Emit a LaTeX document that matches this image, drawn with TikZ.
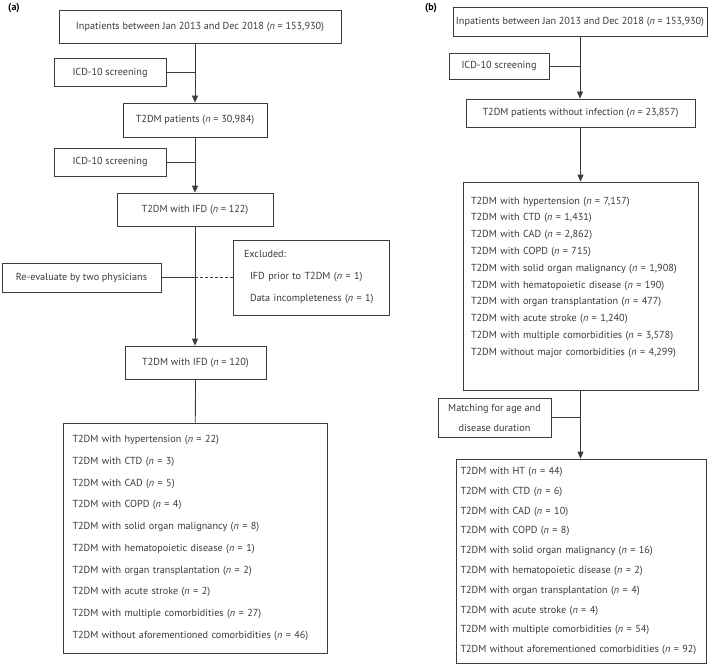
\documentclass[tikz,border=0pt]{standalone}
\usepackage{fontspec}
\setmainfont{PT Sans}
\usetikzlibrary{arrows.meta}
\definecolor{linegray}{HTML}{3C3C3C}
\definecolor{textgray}{HTML}{3A3A3A}
\newcommand{\ncount}[1]{(\textit{n} = #1)}
\tikzset{
  flowbox/.style={draw=linegray,line width=0.8pt,text=textgray,inner sep=0pt,align=center,font=\fontsize{10.2}{12}\selectfont},
  link/.style={draw=linegray,line width=0.8pt},
  arrowlink/.style={link,-{Triangle[width=6pt,length=7pt]}},
  panel/.style={font=\bfseries\fontsize{10}{12}\selectfont,text=black}
}
\begin{document}
\begin{tikzpicture}[x=1pt,y=-1pt]
        \useasboundingbox (0,0) rectangle (709,666);
        \node[panel] (labA) at (14,8) {(a)};
        \node[panel] (labB) at (431,8) {(b)};
        \node[flowbox,minimum width=282pt,minimum height=33pt] (inpA) at (200,26.5) {Inpatients between Jan 2013 and Dec 2018 \ncount{153,930}};
        \node[flowbox,minimum width=112pt,minimum height=28pt] (icdA1) at (110,72.5) {ICD-10 screening};
        \node[flowbox,minimum width=144pt,minimum height=34pt] (t2dmA) at (195,120) {T2DM patients \ncount{30,984}};
        \node[flowbox,minimum width=112pt,minimum height=28pt] (icdA2) at (110,162) {ICD-10 screening};
        \node[flowbox,minimum width=156pt,minimum height=33pt] (ifdA) at (195,209.5) {T2DM with IFD \ncount{122}};
        \node[flowbox,minimum width=159pt,minimum height=29pt] (evalA) at (81.5,277.5) {Re-evaluate by two physicians};
        \node[flowbox,align=left,text width=134pt,inner xsep=11pt,minimum height=75pt,font=\fontsize{10.2}{22}\selectfont] (exclA) at (311,277.5) {Excluded:\\\hspace*{6pt}IFD prior to T2DM \ncount{1}\\\hspace*{6pt}Data incompleteness \ncount{1}};
        \node[flowbox,minimum width=141pt,minimum height=33pt] (ifdA2) at (195.5,362.5) {T2DM with IFD \ncount{120}};
        \node[flowbox,align=left,text width=245pt,inner xsep=9.5pt,minimum height=230pt,font=\fontsize{10.2}{21.7}\selectfont] (listA) at (195,538) {T2DM with hypertension \ncount{22}\\T2DM with CTD \ncount{3}\\T2DM with CAD \ncount{5}\\T2DM with COPD \ncount{4}\\T2DM with solid organ malignancy \ncount{8}\\T2DM with hematopoietic disease \ncount{1}\\T2DM with organ transplantation \ncount{2}\\T2DM with acute stroke \ncount{2}\\T2DM with multiple comorbidities \ncount{27}\\T2DM without aforementioned comorbidities \ncount{46}};
        \draw[arrowlink] (inpA.south -| t2dmA) -- (t2dmA.north);
        \draw[link] (icdA1) -- (icdA1 -| t2dmA);
        \draw[arrowlink] (t2dmA) -- (ifdA);
        \draw[link] (icdA2) -- (icdA2 -| t2dmA);
        \draw[arrowlink] (ifdA.south) -- (ifdA.south |- ifdA2.north);
        \draw[link] (evalA) -- (evalA -| ifdA);
        \draw[link,dash pattern=on 3pt off 2pt] (evalA -| ifdA) -- (exclA);
        \draw[link] (ifdA2) -- (listA);
        \node[flowbox,minimum width=254pt,minimum height=29pt] (inpB) at (580,21.5) {Inpatients between Jan 2013 and Dec 2018 \ncount{153,930}};
        \node[flowbox,minimum width=100pt,minimum height=26pt] (icdB) at (499,66) {ICD-10 screening};
        \node[flowbox,minimum width=229pt,minimum height=28pt] (t2dmB) at (580.5,113) {T2DM patients without infection \ncount{23,857}};
        \node[flowbox,align=left,text width=219pt,inner xsep=8pt,minimum height=208pt,font=\fontsize{10.2}{16.8}\selectfont] (listB) at (580.5,286) {T2DM with hypertension \ncount{7,157}\\T2DM with CTD \ncount{1,431}\\T2DM with CAD \ncount{2,862}\\T2DM with COPD \ncount{715}\\T2DM with solid organ malignancy \ncount{1,908}\\T2DM with hematopoietic disease \ncount{190}\\T2DM with organ transplantation \ncount{477}\\T2DM with acute stroke \ncount{1,240}\\T2DM with multiple comorbidities \ncount{3,578}\\T2DM without major comorbidities \ncount{4,299}\rule[-20pt]{0pt}{0pt}};
        \node[flowbox,minimum width=113pt,minimum height=39pt,font=\fontsize{10.2}{20}\selectfont] (matchB) at (494.5,417.5) {Matching for age and\\disease duration};
        \node[flowbox,align=left,text width=241pt,inner xsep=4.5pt,minimum height=204pt,font=\fontsize{10.2}{19.8}\selectfont] (finalB) at (581,561) {T2DM with HT \ncount{44}\\T2DM with CTD \ncount{6}\\T2DM with CAD \ncount{10}\\T2DM with COPD \ncount{8}\\T2DM with solid organ malignancy \ncount{16}\\T2DM with hematopoietic disease \ncount{2}\\T2DM with organ transplantation \ncount{4}\\T2DM with acute stroke \ncount{4}\\T2DM with multiple comorbidities \ncount{54}\\T2DM without aforementioned comorbidities \ncount{92}};
        \draw[arrowlink] (inpB.south) -- (inpB.south |- t2dmB.north);
        \draw[link] (icdB) -- (icdB -| inpB);
        \draw[arrowlink] (t2dmB) -- (listB);
        \draw[arrowlink] (listB.south) -- (listB.south |- finalB.north);
        \draw[link] (matchB) -- (matchB -| listB);
\end{tikzpicture}
\end{document}
